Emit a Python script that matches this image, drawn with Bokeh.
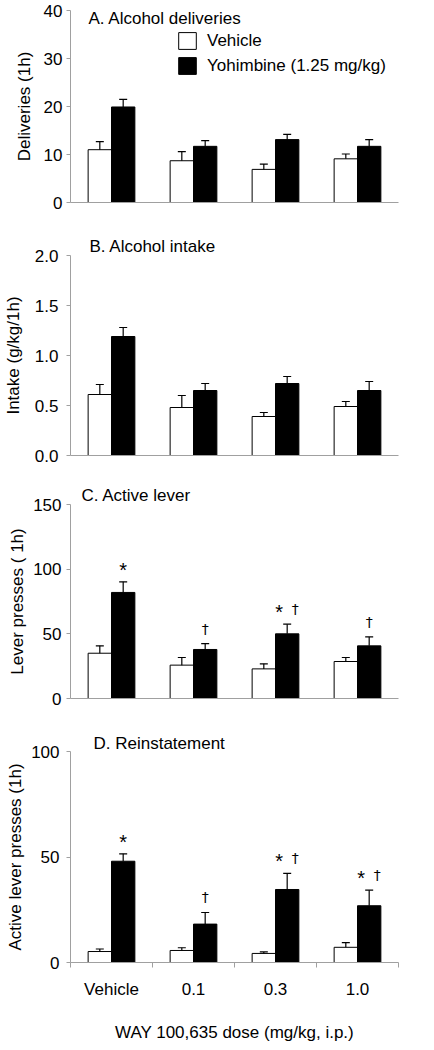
import numpy as np
from bokeh.plotting import figure
from bokeh.models import (ColumnDataSource, Range1d, FixedTicker, Whisker, TeeHead,
                          Legend, LegendItem, Label, NumeralTickFormatter)
from bokeh.transform import dodge
from bokeh.layouts import column
from bokeh.embed import file_html
from bokeh.resources import INLINE
from bokeh.core.properties import value

# ---------------- data ----------------
doses = ["Vehicle", "0.1", "0.3", "1.0"]
series = ["Vehicle", "Yohimbine (1.25 mg/kg)"]
x_title = "WAY 100,635 dose (mg/kg, i.p.)"

a_vehicle = [11.0, 8.7, 6.9, 9.1]
a_vehicle_sem = [1.7, 1.9, 1.1, 1.0]
a_yohimbine = [19.9, 11.7, 13.1, 11.7]
a_yohimbine_sem = [1.6, 1.2, 1.1, 1.4]

b_vehicle = [0.61, 0.48, 0.39, 0.49]
b_vehicle_sem = [0.10, 0.12, 0.04, 0.05]
b_yohimbine = [1.19, 0.65, 0.72, 0.65]
b_yohimbine_sem = [0.09, 0.07, 0.07, 0.09]

c_vehicle = [35.0, 25.8, 22.9, 28.6]
c_vehicle_sem = [5.7, 5.9, 3.9, 3.1]
c_yohimbine = [82.0, 37.9, 50.0, 40.7]
c_yohimbine_sem = [8.2, 4.6, 7.5, 6.9]
c_star = [True, False, True, False]
c_dagger = [False, True, True, True]

d_vehicle = [5.2, 5.7, 4.3, 7.2]
d_vehicle_sem = [1.2, 1.3, 0.7, 2.2]
d_yohimbine = [48.0, 18.2, 34.6, 26.9]
d_yohimbine_sem = [3.5, 5.5, 7.6, 7.4]
d_star = [True, False, True, True]
d_dagger = [False, True, True, True]

a_ticks = [0, 10, 20, 30, 40]
b_ticks = [0.0, 0.5, 1.0, 1.5, 2.0]
c_ticks = [0, 50, 100, 150]
d_ticks = [0, 50, 100]

# ---------------- style ----------------
FONT = "Liberation Sans"
AXIS = "#a0a0a0"
BAR_W = 0.285
FS = "17px"
W = 434


def panel(title, ylabel, veh, veh_sem, yoh, yoh_sem, ticks, height, borders,
          title_off, std, star=None, dagger=None, legend=False, fmt=None,
          bottom_axis=False, title_inside=False):
    left, right, top, bottom = borders
    p = figure(width=W, height=height, x_range=Range1d(0, len(doses)),
               y_range=Range1d(ticks[0], ticks[-1]),
               output_backend="svg", toolbar_location=None,
               min_border_left=left, min_border_right=right,
               min_border_top=top, min_border_bottom=bottom)
    p.outline_line_color = None
    p.grid.visible = False
    p.background_fill_color = "white"

    centers = np.arange(len(doses)) + 0.5
    veh = np.array(veh); yoh = np.array(yoh)
    src = ColumnDataSource(dict(x=centers, dose=doses,
                                veh=veh, veh_top=veh + np.array(veh_sem),
                                yoh=yoh, yoh_top=yoh + np.array(yoh_sem)))
    xv = dodge("x", -BAR_W / 2, range=p.x_range)
    xy = dodge("x", BAR_W / 2, range=p.x_range)

    for lo, hi, xx in (("veh", "veh_top", xv), ("yoh", "yoh_top", xy)):
        p.add_layout(Whisker(source=src, base=xx, lower=lo, upper=hi, dimension="height",
                             line_color="black", line_width=1.2,
                             upper_head=TeeHead(size=8, line_color="black", line_width=1.2),
                             lower_head=None, level="overlay"))
    r_veh = p.vbar(x=xv, top="veh", bottom=0, width=BAR_W, source=src,
                   fill_color="white", line_color="black", line_width=1)
    r_yoh = p.vbar(x=xy, top="yoh", bottom=0, width=BAR_W, source=src,
                   fill_color="black", line_color="black", line_width=1)

    if star is not None:
        star = np.array(star); dagger = np.array(dagger)
        both = star & dagger
        tops = yoh + np.array(yoh_sem)
        s_src = ColumnDataSource(dict(x=centers[star], y=tops[star],
                                      t=["*"] * int(star.sum()),
                                      dx=np.where(both[star], -8, 0)))
        d_src = ColumnDataSource(dict(x=centers[dagger], y=tops[dagger],
                                      t=["\u2020"] * int(dagger.sum()),
                                      dx=np.where(both[dagger], 8, 0)))
        p.text(x=dodge("x", BAR_W / 2, range=p.x_range), y="y", text="t", x_offset="dx",
               y_offset=-12, source=s_src, text_font=value(FONT), text_font_size="20px",
               text_align="center", text_baseline="alphabetic", text_color="black")
        p.text(x=dodge("x", BAR_W / 2, range=p.x_range), y="y", text="t", x_offset="dx",
               y_offset=-15, source=d_src, text_font=value("DejaVu Sans"),
               text_font_size="14px",
               text_align="center", text_baseline="alphabetic", text_color="black")

    # panel title
    if title_inside:
        p.add_layout(Label(x=0, y=ticks[-1], x_offset=title_off[0], y_offset=title_off[1],
                           text=title, text_font=FONT, text_font_size=FS,
                           text_align="left", text_baseline="alphabetic", text_color="black"))
    else:
        p.title.text = title
        p.title.align = "left"
        p.title.offset = title_off[0]
        p.title.standoff = title_off[1]
        p.title.text_font = FONT
        p.title.text_font_size = FS
        p.title.text_font_style = "normal"
        p.title.text_color = "black"

    # y axis
    ya = p.yaxis[0]
    ya.ticker = FixedTicker(ticks=ticks)
    if fmt:
        ya.formatter = NumeralTickFormatter(format=fmt)
    ya.axis_line_color = AXIS
    ya.major_tick_line_color = AXIS
    ya.major_tick_out = 4
    ya.major_tick_in = 0
    ya.minor_tick_line_color = None
    ya.major_label_standoff = std[0]
    ya.axis_label = ylabel
    ya.axis_label_standoff = std[1]
    ya.axis_label_text_font = FONT
    ya.axis_label_text_font_size = FS
    ya.axis_label_text_font_style = "normal"
    ya.axis_label_text_color = "black"
    ya.major_label_text_font = FONT
    ya.major_label_text_font_size = FS
    ya.major_label_text_color = "black"

    # x axis
    xa = p.xaxis[0]
    xa.axis_line_color = AXIS
    if bottom_axis:
        xa.ticker = FixedTicker(ticks=list(centers), minor_ticks=list(range(len(doses) + 1)))
        xa.major_label_overrides = {float(c): d for c, d in zip(centers, doses)}
        xa.major_tick_line_color = None
        xa.major_tick_out = 0
        xa.major_tick_in = 0
        xa.minor_tick_line_color = AXIS
        xa.minor_tick_out = 5
        xa.minor_tick_in = 0
        xa.major_label_standoff = 12
        xa.major_label_text_font = FONT
        xa.major_label_text_font_size = FS
        xa.major_label_text_color = "black"
        xa.axis_label = x_title
        xa.axis_label_standoff = 21
        xa.axis_label_text_font = FONT
        xa.axis_label_text_font_size = FS
        xa.axis_label_text_font_style = "normal"
        xa.axis_label_text_color = "black"
    else:
        xa.ticker = FixedTicker(ticks=[])
        xa.major_tick_line_color = None
        xa.minor_tick_line_color = None

    if legend:
        lg = Legend(items=[LegendItem(label=series[0], renderers=[r_veh]),
                           LegendItem(label=series[1], renderers=[r_yoh])],
                    location=(106, 126), glyph_width=22, glyph_height=21,
                    label_standoff=9, spacing=4, padding=0, margin=0,
                    border_line_color=None, background_fill_alpha=0,
                    label_text_font=FONT, label_text_font_size=FS,
                    label_text_color="black", label_height=17)
        p.add_layout(lg)
    return p


pA = panel("A. Alcohol deliveries", "Deliveries (1h)", a_vehicle, a_vehicle_sem,
           a_yohimbine, a_yohimbine_sem, a_ticks, 228, (68, 24, 10, 26), (18, -8), (4, 7),
           legend=True, title_inside=True)

pB = panel("B. Alcohol intake", "Intake (g/kg/1h)", b_vehicle, b_vehicle_sem,
           b_yohimbine, b_yohimbine_sem, b_ticks, 250, (64, 18, 27, 23), (19, 0), (8, 9),
           fmt="0.0")

pC = panel("C. Active lever", "Lever presses ( 1h)", c_vehicle, c_vehicle_sem,
           c_yohimbine, c_yohimbine_sem, c_ticks, 248, (69, 36, 26, 28), (11, 0), (5, 3),
           star=c_star, dagger=c_dagger)

pD = panel("D. Reinstatement", "Active lever presses (1h)", d_vehicle, d_vehicle_sem,
           d_yohimbine, d_yohimbine_sem, d_ticks, 324, (62, 6, 25, 88), (23, -3), (7, 3),
           star=d_star, dagger=d_dagger, bottom_axis=True)

layout = column(pA, pB, pC, pD)
open("out.html", "w").write(file_html(layout, INLINE))
